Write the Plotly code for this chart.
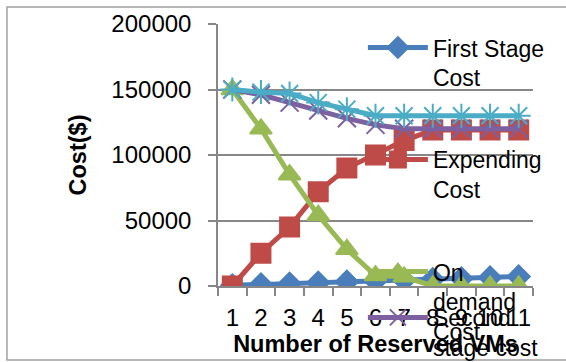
import plotly.graph_objects as go

# Number of reserved VMs (category axis)
reserved_vms = ["1", "2", "3", "4", "5", "6", "7", "8", "9", "10", "11"]

# Cost components in $
first_stage_cost = [500, 1200, 1800, 2500, 3200, 3900, 4500, 5200, 5800, 6500, 7200]
expending_cost = [0, 25000, 45000, 72000, 90000, 100000, 111000, 119000, 119000, 119000, 119000]
on_demand_cost = [150000, 120000, 85000, 54000, 28000, 8000, 7000, 0, 0, 0, 0]
second_stage_cost = [150000, 146000, 140000, 134000, 128000, 123000, 120000, 120000, 120000, 120000, 120000]
total_cost = [150000, 148000, 147000, 140000, 135000, 130000, 130000, 130000, 130000, 130000, 130000]

y_ticks = [0, 50000, 100000, 150000, 200000]

FONT = "Liberation Sans"
GRID = "#878787"

fig = go.Figure()

series = [
    ("First Stage<br>Cost", first_stage_cost, "#4A7EBB", "diamond", 17, "legend"),
    ("Expending<br>Cost", expending_cost, "#BE4B48", "square", 19, "legend2"),
    ("On<br>demand<br>Cost", on_demand_cost, "#98B954", "triangle-up", 19, "legend3"),
    ("Second<br>stage cost", second_stage_cost, "#7D60A0", "x-thin-open", 18, "legend4"),
]

for name, values, color, symbol, size, legend in series:
    fig.add_trace(go.Scatter(
        x=reserved_vms, y=values, name=name, mode="lines+markers",
        line=dict(color=color, width=5),
        marker=dict(symbol=symbol, size=size, color=color,
                    line=dict(color=color, width=2)),
        legend=legend,
    ))

fig.add_trace(go.Scatter(
    x=reserved_vms, y=total_cost, name="Total Cost", mode="lines+markers",
    line=dict(color="#4BACC6", width=5),
    marker=dict(symbol="asterisk-open", size=20, color="#4BACC6",
                line=dict(color="#4BACC6", width=2)),
    showlegend=False,
))

legend_style = dict(
    font=dict(family=FONT, size=23, color="black"),
    bgcolor="rgba(0,0,0,0)", borderwidth=0,
    xanchor="left", yanchor="top", valign="top",
    itemwidth=60, tracegroupgap=0,
)

fig.update_layout(
    width=566, height=362,
    margin=dict(l=218, r=33, t=24, b=76, autoexpand=False),
    paper_bgcolor="white", plot_bgcolor="white",
    font=dict(family=FONT, size=24, color="black"),
    legend=dict(x=0.46, y=0.992, **legend_style),
    legend2=dict(x=0.46, y=0.565, **legend_style),
    legend3=dict(x=0.46, y=0.137, **legend_style),
    legend4=dict(x=0.46, y=-0.038, **legend_style),
    xaxis=dict(
        type="category",
        range=[-0.5, len(reserved_vms) - 0.5],
        tickmode="array", tickvals=reserved_vms, ticktext=reserved_vms,
        showgrid=False, showline=True, linecolor=GRID, linewidth=1.5,
        ticks="outside", tickson="boundaries", ticklen=8, tickcolor=GRID, tickwidth=1.5,
        tickangle=0,
        tickfont=dict(family=FONT, size=24, color="black"),
        ticklabelstandoff=9,
        title=dict(text="<b>Number of Reserved VMs</b>", standoff=0,
                   font=dict(family=FONT, size=23.5, color="black")),
        automargin=False,
    ),
    yaxis=dict(
        range=[0, 200000], tickvals=y_ticks, tickformat="d",
        showgrid=True, gridcolor=GRID, gridwidth=1.5,
        zeroline=False,
        showline=True, linecolor=GRID, linewidth=1.5,
        ticks="outside", ticklen=8, tickcolor=GRID, tickwidth=1.5,
        tickfont=dict(family=FONT, size=24, color="black"),
        ticklabelstandoff=12,
        title=dict(text="<b>Cost($)</b>", standoff=18,
                   font=dict(family=FONT, size=23.5, color="black")),
        automargin=False,
    ),
    shapes=[dict(
        type="rect", xref="paper", yref="paper",
        x0=-0.67, x1=1.3, y0=-0.2824, y1=1.065,
        line=dict(color="#A0A0A0", width=1.5), layer="below",
    )],
)

fig.write_html("out.html")
